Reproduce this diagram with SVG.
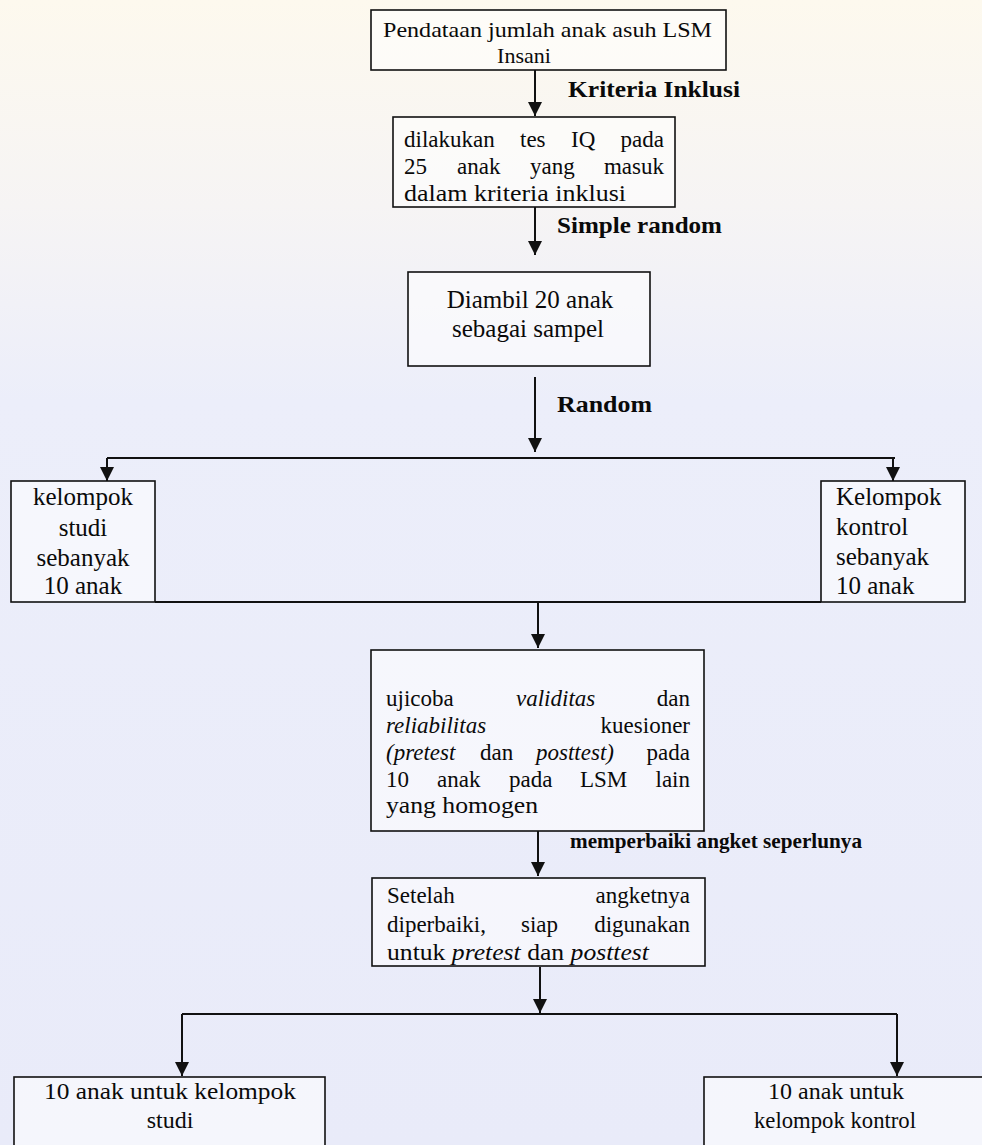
<svg xmlns="http://www.w3.org/2000/svg" width="982" height="1145" viewBox="0 0 982 1145">
  <defs>
    <linearGradient id="bg" x1="0" y1="0" x2="0" y2="1">
      <stop offset="0" stop-color="#fdf9ee"/>
      <stop offset="0.18" stop-color="#f6f4f4"/>
      <stop offset="0.35" stop-color="#eceefa"/>
      <stop offset="1" stop-color="#e9ebf9"/>
    </linearGradient>
    <marker id="ah" viewBox="0 0 14 14" refX="14" refY="7" markerWidth="14" markerHeight="14" markerUnits="userSpaceOnUse" orient="auto">
      <path d="M0,0 L14,7 L0,14 Z" fill="#111"/>
    </marker>
    <style>
      .box { fill: #ffffff; fill-opacity: 0.55; stroke: #111; stroke-width: 1.6; }
      .con { fill: none; stroke: #111; stroke-width: 2; }
      .arr { marker-end: url(#ah); }
      .t { font-family: "Liberation Serif", "Times New Roman", serif; fill: #0a0a0a; }
      .b { font-weight: bold; }
      .i { font-style: italic; }
      .m { text-anchor: middle; }
      .e { text-anchor: end; }
    </style>
  </defs>

  <rect x="0" y="0" width="982" height="1145" fill="url(#bg)"/>

  <g id="connectors">
    <path class="con arr" d="M535,70 V116"/>
    <path class="con arr" d="M535,207 V255"/>
    <path class="con arr" d="M535,377 V452"/>
    <path class="con" d="M107,458 H895"/>
    <path class="con arr" d="M107,458 V481"/>
    <path class="con arr" d="M893,458 V481"/>
    <path class="con" d="M155,602 H821"/>
    <path class="con arr" d="M538,602 V648"/>
    <path class="con arr" d="M538,831 V876"/>
    <path class="con arr" d="M540,967 V1013"/>
    <path class="con" d="M182,1014 H897"/>
    <path class="con arr" d="M182,1014 V1076"/>
    <path class="con arr" d="M897,1014 V1076"/>
    <text class="t b" x="568" y="97" font-size="23" textLength="172" lengthAdjust="spacingAndGlyphs">Kriteria Inklusi</text>
    <text class="t b" x="557" y="233" font-size="23" textLength="165" lengthAdjust="spacingAndGlyphs">Simple random</text>
    <text class="t b" x="557" y="412" font-size="23" textLength="95" lengthAdjust="spacingAndGlyphs">Random</text>
    <text class="t b" x="570" y="848" font-size="21" textLength="292" lengthAdjust="spacingAndGlyphs">memperbaiki angket seperlunya</text>
  </g>

  <g id="n1">
    <rect class="box" x="371" y="10" width="355" height="60"/>
    <text class="t" x="383" y="37" font-size="22" textLength="329" lengthAdjust="spacingAndGlyphs">Pendataan jumlah anak asuh LSM</text>
    <text class="t m" x="524" y="63" font-size="22">Insani</text>
  </g>

  <g id="n2" font-size="23">
    <rect class="box" x="393" y="117" width="282" height="90"/>
    <text class="t" y="147"><tspan x="404">dilakukan</tspan><tspan x="520">tes</tspan><tspan x="571">IQ</tspan></text>
    <text class="t e" x="664" y="147">pada</text>
    <text class="t" y="174"><tspan x="404">25</tspan><tspan x="457">anak</tspan><tspan x="530">yang</tspan></text>
    <text class="t e" x="664" y="174">masuk</text>
    <text class="t" x="404" y="201" textLength="222" lengthAdjust="spacingAndGlyphs">dalam kriteria inklusi</text>
  </g>

  <g id="n3" font-size="25">
    <rect class="box" x="408" y="272" width="242" height="94"/>
    <text class="t m" x="530" y="308">Diambil 20 anak</text>
    <text class="t m" x="528" y="337">sebagai sampel</text>
  </g>

  <g id="n4" font-size="25">
    <rect class="box" x="11" y="481" width="144" height="121"/>
    <text class="t m" x="83" y="505">kelompok</text>
    <text class="t m" x="83" y="536">studi</text>
    <text class="t m" x="83" y="566">sebanyak</text>
    <text class="t m" x="83" y="594">10 anak</text>
  </g>

  <g id="n5" font-size="25">
    <rect class="box" x="821" y="481" width="144" height="121"/>
    <text class="t" x="836" y="505">Kelompok</text>
    <text class="t" x="836" y="535">kontrol</text>
    <text class="t" x="836" y="565">sebanyak</text>
    <text class="t" x="836" y="594">10 anak</text>
  </g>

  <g id="n6" font-size="23">
    <rect class="box" x="371" y="650" width="333" height="181"/>
    <text class="t" x="386" y="706">ujicoba</text>
    <text class="t i" x="516" y="706">validitas</text>
    <text class="t e" x="690" y="706">dan</text>
    <text class="t i" x="386" y="733">reliabilitas</text>
    <text class="t e" x="690" y="733">kuesioner</text>
    <text class="t i" x="386" y="760">(pretest</text>
    <text class="t" x="480" y="760">dan</text>
    <text class="t i" x="536" y="760">posttest)</text>
    <text class="t e" x="690" y="760">pada</text>
    <text class="t" y="787"><tspan x="386">10</tspan><tspan x="437">anak</tspan><tspan x="509">pada</tspan><tspan x="580">LSM</tspan></text>
    <text class="t e" x="690" y="787">lain</text>
    <text class="t" x="386" y="813" textLength="152" lengthAdjust="spacingAndGlyphs">yang homogen</text>
  </g>

  <g id="n7" font-size="23">
    <rect class="box" x="372" y="878" width="333" height="88"/>
    <text class="t" x="387" y="903">Setelah</text>
    <text class="t e" x="690" y="903">angketnya</text>
    <text class="t" y="932"><tspan x="387">diperbaiki,</tspan><tspan x="521">siap</tspan></text>
    <text class="t e" x="690" y="932">digunakan</text>
    <text class="t" x="387" y="960" textLength="262" lengthAdjust="spacingAndGlyphs">untuk <tspan class="i">pretest</tspan> dan <tspan class="i">posttest</tspan></text>
  </g>

  <g id="n8" font-size="24">
    <rect class="box" x="14" y="1077" width="311" height="90"/>
    <text class="t m" x="170" y="1099" textLength="252" lengthAdjust="spacingAndGlyphs">10 anak untuk kelompok</text>
    <text class="t m" x="170" y="1128">studi</text>
  </g>

  <g id="n9" font-size="24">
    <rect class="box" x="704" y="1077" width="290" height="90"/>
    <text class="t m" x="836" y="1099">10 anak untuk</text>
    <text class="t m" x="835" y="1128" textLength="162" lengthAdjust="spacingAndGlyphs">kelompok kontrol</text>
  </g>
</svg>
